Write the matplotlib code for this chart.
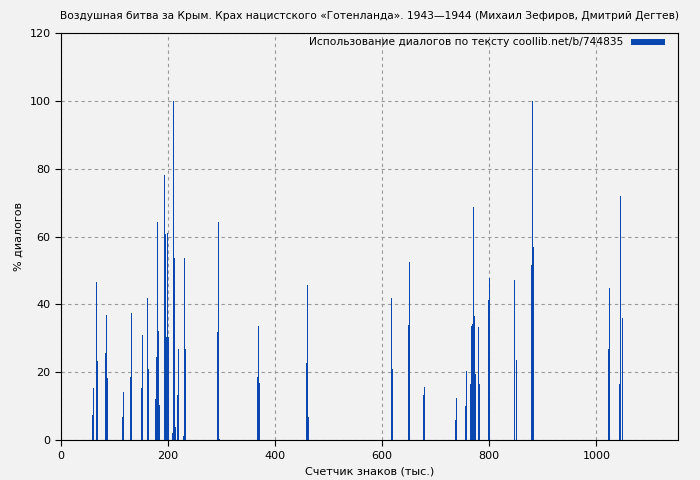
import matplotlib
matplotlib.use('Agg')
import matplotlib.pyplot as plt

# positions in thousands of characters, % of dialogue per chunk
chunk_pos = [58.0, 60.0, 65.4, 67.3, 82.0, 84.0, 86.0, 114.0, 116.0, 129.0, 131.0,
             149.5, 151.4, 160.7, 162.6, 175.7, 177.6, 179.4, 181.3, 183.2,
             192.5, 194.4, 196.3, 198.1, 200.0, 207.5, 209.3, 211.2, 213.1,
             216.8, 218.7, 228.0, 229.9, 231.8, 291.6, 293.5, 295.3,
             366.0, 368.0, 370.0, 458.0, 460.0, 462.0,
             617.0, 619.0, 649.0, 650.9, 677.0, 679.0, 736.0, 738.0,
             755.0, 757.0, 764.0, 766.0, 768.0, 770.0, 772.0, 774.0, 779.0, 781.0,
             798.0, 800.0, 847.0, 849.0, 877.0, 878.9, 880.8,
             1021.0, 1022.9, 1043.0, 1045.0, 1047.0]
dialog_pct = [7.4, 15.4, 46.7, 23.4, 25.8, 37.0, 18.4, 6.9, 14.2, 18.7, 37.6,
              15.4, 31.0, 41.9, 21.0, 12.1, 24.6, 64.4, 32.2, 10.4,
              78.2, 60.8, 30.5, 61.2, 30.5, 2.2, 100.0, 53.7, 3.9,
              13.4, 26.9, 1.3, 53.7, 26.9, 31.9, 64.3, 0.3,
              18.6, 33.6, 16.8, 22.7, 45.7, 6.8,
              41.9, 20.9, 33.9, 52.5, 13.3, 15.6, 5.9, 12.4,
              10.0, 20.4, 16.5, 33.6, 34.2, 68.7, 36.6, 19.5, 33.3, 16.5,
              41.3, 47.8, 47.3, 23.5, 51.5, 100.0, 57.0,
              27.0, 44.8, 16.5, 72.0, 36.0]

x_ticks = [0, 200, 400, 600, 800, 1000]
y_ticks = [0, 20, 40, 60, 80, 100, 120]

title = 'Воздушная битва за Крым. Крах нацистского «Готенланда». 1943—1944 (Михаил Зефиров, Дмитрий Дегтев)'
legend_label = 'Использование диалогов по тексту coollib.net/b/744835'

bg = '#f2f2f2'
bar_color = '#0a47b0'

fig = plt.figure(figsize=(7, 4.8), dpi=100, facecolor=bg)
ax = fig.add_axes([0.087, 0.083, 0.882, 0.848], facecolor=bg)

ax.bar(chunk_pos, dialog_pct, width=1.85, color=bar_color, linewidth=0,
       align='edge', label=legend_label)

ax.set_xlim(0, 1153)
ax.set_ylim(0, 120)
ax.set_xticks(x_ticks)
ax.set_yticks(y_ticks)
ax.tick_params(labelsize=8, length=4, color='black')
ax.grid(True, color='#999999', linestyle=(0, (3, 3)), linewidth=0.8)
ax.set_axisbelow(True)
for s in ax.spines.values():
    s.set_color('black')

ax.set_title(title, fontsize=7.7, pad=10)
ax.set_xlabel('Счетчик знаков (тыс.)', fontsize=8)
ax.set_ylabel('% диалогов', fontsize=8)

ax.legend(loc='upper right', bbox_to_anchor=(0.99, 1.008), frameon=False,
          fontsize=7.7, markerfirst=False, handlelength=3.1, handleheight=0.5,
          borderaxespad=0.3)

fig.savefig('out.png', dpi=100, facecolor=bg)
